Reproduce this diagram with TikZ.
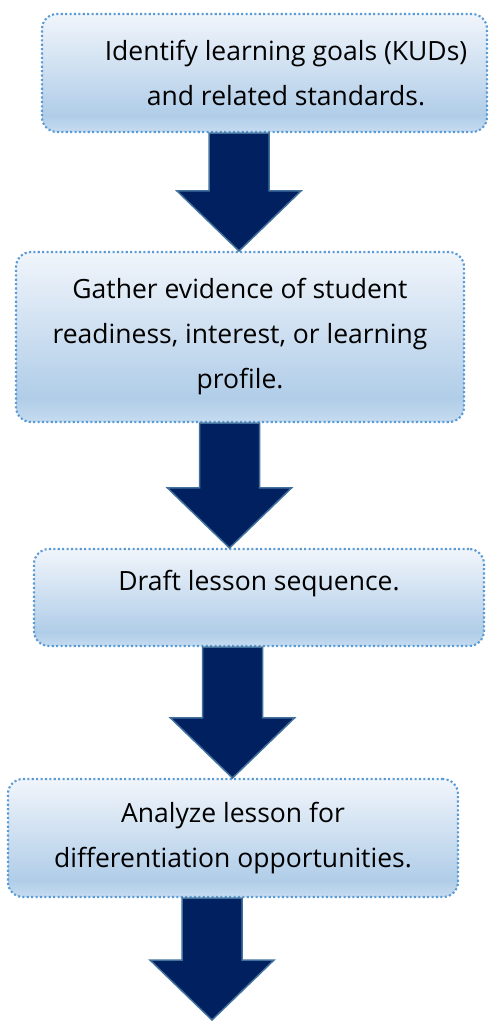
\documentclass[tikz,border=0pt]{standalone}
\usepackage{fontspec}
\setmainfont{Open Sans}
\usetikzlibrary{calc}
\definecolor{dotblue}{HTML}{5B9BD5}
\definecolor{navy}{HTML}{002060}
\definecolor{rimblue}{HTML}{41719C}
\definecolor{paleblue}{HTML}{F1F5FB}
\definecolor{skyblue}{HTML}{B0CDE8}
\definecolor{lowblue}{HTML}{C6DCF0}
\pgfdeclareverticalshading{boxfill}{100bp}{color(0bp)=(lowblue); color(25bp)=(lowblue);
  color(32bp)=(skyblue); color(75bp)=(paleblue); color(100bp)=(paleblue)}

\newcommand{\blockarrow}[3]{%
  \path (#1 |- #2.south) coordinate (shaft) (#1 |- #3) coordinate (point);
  \filldraw[bigarrow] ($(shaft)+(-30,0)$) -- ($(shaft)+(30,0)$) -- ($(point)+(30,-60)$)
    -- ($(point)+(62,-60)$) -- (point) -- ($(point)+(-62,-60)$) -- ($(point)+(-30,-60)$) -- cycle;
}

\begin{document}
\begin{tikzpicture}[x=1pt,y=-1pt]
\tikzset{stepbox/.style = {shape=rectangle, rounded corners=15pt, shading=boxfill,
		draw=dotblue, line width=2.1pt, dash pattern=on 2.1pt off 2.3pt}}
\tikzset{steptext/.style = {align=center, font=\fontsize{26.5}{45}\selectfont}}
\tikzset{bigarrow/.style = {fill=navy, draw=rimblue, line width=1.5pt, line join=miter}}
\useasboundingbox (0,0) rectangle (488,1021);
% boxes
\node[stepbox, minimum width=445pt, minimum height=118pt] (b1) at (264.5,73) {};
\node[stepbox, minimum width=448pt, minimum height=170pt] (b2) at (240,337) {};
\node[stepbox, minimum width=450pt, minimum height=97pt] (b3) at (259,597.5) {};
\node[stepbox, minimum width=450pt, minimum height=118pt] (b4) at (233,838) {};

% texts
\node[steptext] (t1) at (286,73) {Identify learning goals (KUDs)\\and related standards.};
\node[steptext] (t2) at (b2) {Gather evidence of student\\readiness, interest, or learning\\profile.};
\node[steptext] (t3) at (259,584) {Draft lesson sequence.};
\node[steptext] (t4) at (b4) {Analyze lesson for\\differentiation opportunities.};

% arrows
\coordinate (x1) at (239,0);
\coordinate (x2) at (229.5,0);
\coordinate (x3) at (232.5,0);
\coordinate (x4) at (212,0);
\coordinate (end) at (212,1020);
\blockarrow{x1}{b1}{b2.north}
\blockarrow{x2}{b2}{b3.north}
\blockarrow{x3}{b3}{b4.north}
\blockarrow{x4}{b4}{end}
\end{tikzpicture}
\end{document}
